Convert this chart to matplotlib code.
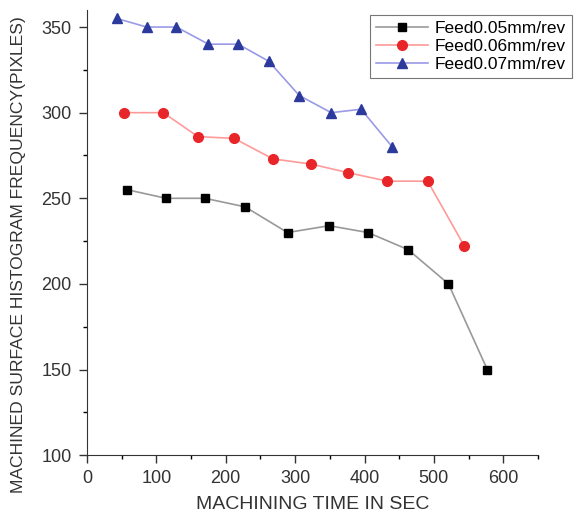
import matplotlib.pyplot as plt
from matplotlib.ticker import MultipleLocator

plt.rcParams['font.family'] = ['Liberation Sans', 'DejaVu Sans']

t_005 = [58, 114, 170, 228, 289, 349, 405, 463, 521, 577]
f_005 = [255, 250, 250, 245, 230, 234, 230, 220, 200, 150]
t_006 = [53, 110, 160, 212, 268, 323, 376, 433, 491, 544]
f_006 = [300, 300, 286, 285, 273, 270, 265, 260, 260, 222]
t_007 = [43, 86, 129, 175, 218, 262, 306, 352, 395, 440]
f_007 = [355, 350, 350, 340, 340, 330, 310, 300, 302, 280]

fig = plt.figure(figsize=(5.76, 5.22), dpi=100)
ax = fig.add_axes([0.151, 0.128, 0.783, 0.853])

ax.plot(t_005, f_005, color='#999999', lw=1.2, marker='s', ms=6,
        mfc='black', mec='black', label='Feed0.05mm/rev')
ax.plot(t_006, f_006, color='#ff9a9a', lw=1.2, marker='o', ms=7,
        mfc='#e8262a', mec='#e8262a', label='Feed0.06mm/rev')
ax.plot(t_007, f_007, color='#9a9ae6', lw=1.2, marker='^', ms=7.5,
        mfc='#2b3a9c', mec='#2b3a9c', label='Feed0.07mm/rev')

ax.set_xlim(0, 650)
ax.set_ylim(100, 360)
ax.xaxis.set_major_locator(MultipleLocator(100))
ax.xaxis.set_minor_locator(MultipleLocator(50))
ax.yaxis.set_major_locator(MultipleLocator(50))
ax.yaxis.set_minor_locator(MultipleLocator(25))
ax.set_xticks(range(0, 601, 100))
ax.tick_params(which='major', direction='out', length=6, width=1, labelsize=13,
               colors='#333333', pad=5)
ax.tick_params(which='minor', direction='out', length=3, width=1)
for s in ['top', 'right']:
    ax.spines[s].set_visible(False)
for s in ['left', 'bottom']:
    ax.spines[s].set_color('#333333')

ax.set_xlabel('MACHINING TIME IN SEC', fontsize=14, color='#333333', labelpad=6)
ax.set_ylabel('MACHINED SURFACE HISTOGRAM FREQUENCY(PIXLES)', fontsize=12.6,
              color='#333333', va='center')
ax.yaxis.set_label_coords(-0.151, 0.45)

leg = ax.legend(loc='upper right', bbox_to_anchor=(0.993, 0.971), bbox_transform=fig.transFigure,
                fontsize=12.5, frameon=True, fancybox=False, edgecolor='#555555',
                handlelength=3, borderpad=0.35, labelspacing=0.15, handletextpad=0.4,
                borderaxespad=0)
leg.get_frame().set_linewidth(0.8)

fig.savefig('out.png', dpi=100)
